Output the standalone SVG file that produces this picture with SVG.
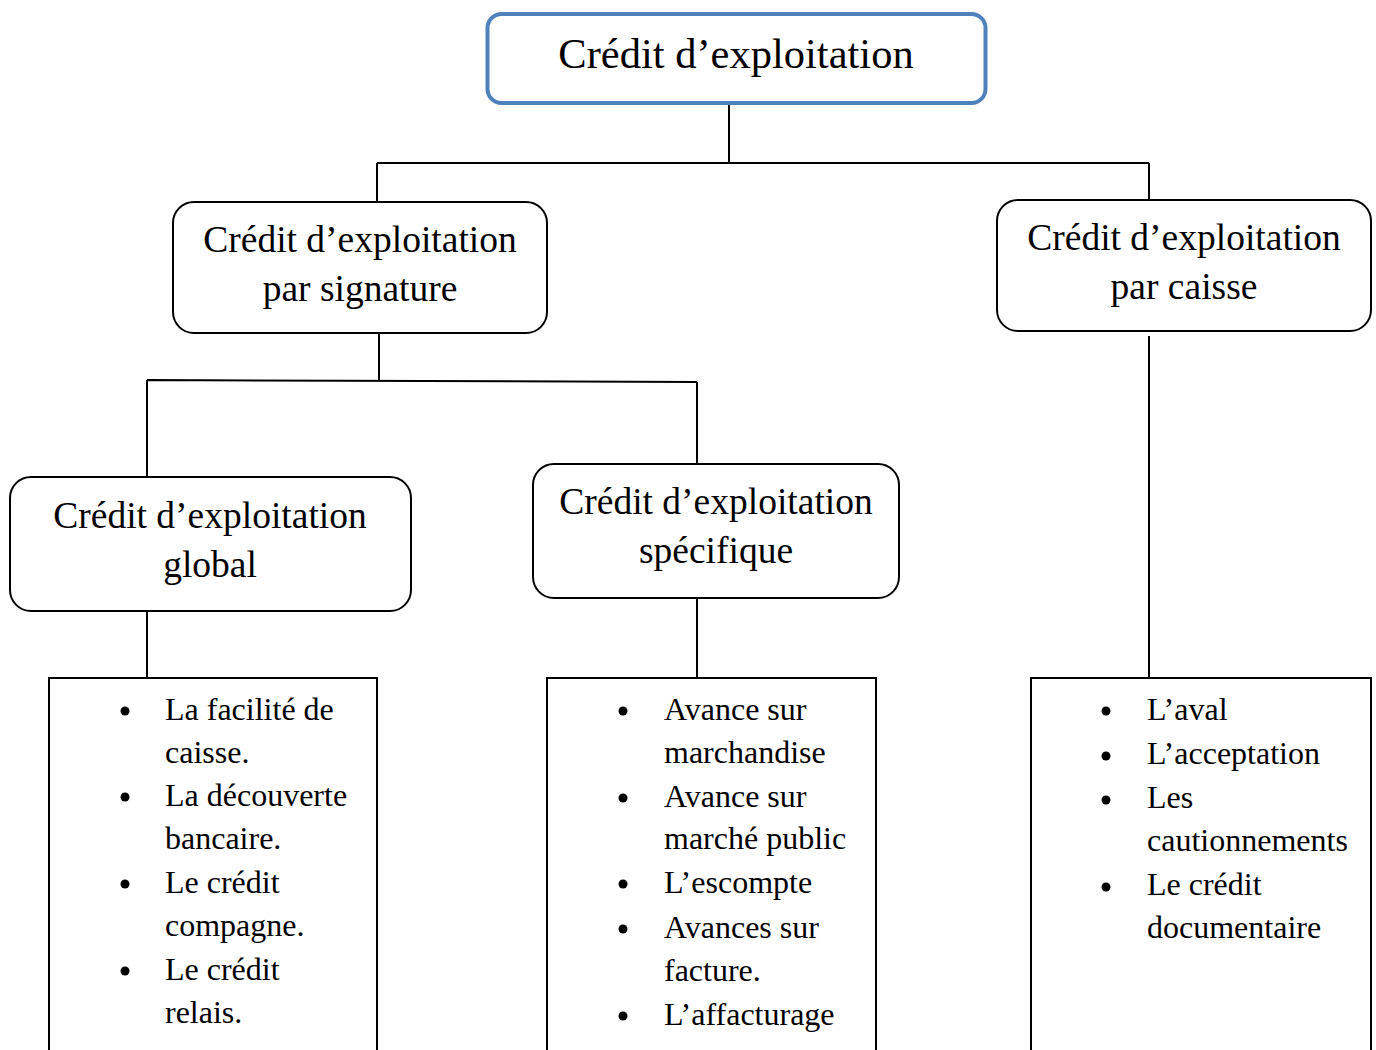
<svg xmlns="http://www.w3.org/2000/svg" width="1376" height="1050" viewBox="0 0 1376 1050">
  <style>
    .bg { fill: #ffffff; }
    .root { fill: #ffffff; stroke: #4F81BD; stroke-width: 4; }
    .node { fill: #ffffff; stroke: #000000; stroke-width: 2; }
    .list { fill: #ffffff; stroke: #000000; stroke-width: 2; }
    .wire { fill: none; stroke: #000000; stroke-width: 2; }
    .title { font-family: "Liberation Serif", "Times New Roman", serif; font-size: 42.5px; fill: #000000; text-anchor: middle; }
    .label { font-family: "Liberation Serif", "Times New Roman", serif; font-size: 37.5px; fill: #000000; text-anchor: middle; }
    .item { font-family: "Liberation Serif", "Times New Roman", serif; font-size: 32px; fill: #000000; }
    .dot { fill: #000000; }
  </style>

  <rect class="bg" x="0" y="0" width="1376" height="1050"/>

  <!-- connectors -->
  <g id="connectors">
    <path class="wire" d="M729 103 V163 M377 163 H1149 M377 163 V202 M1149 163 V200"/>
    <path class="wire" d="M379 333 V381 M147 380 L697 382 M147 380 V477 M697 382 V464"/>
    <path class="wire" d="M147 611 V678 M697 598 V678 M1149 336 V678"/>
  </g>

  <!-- root -->
  <g id="credit-exploitation">
    <rect class="root" x="487.5" y="14" width="498" height="89" rx="14"/>
    <text class="title" x="736" y="68">Crédit d’exploitation</text>
  </g>

  <!-- second level -->
  <g id="par-signature">
    <rect class="node" x="173" y="202" width="374" height="131" rx="21"/>
    <text class="label" x="360" y="252">Crédit d’exploitation</text>
    <text class="label" x="360" y="301">par signature</text>
  </g>

  <g id="par-caisse">
    <rect class="node" x="997" y="200" width="374" height="131" rx="21"/>
    <text class="label" x="1184" y="250">Crédit d’exploitation</text>
    <text class="label" x="1184" y="299">par caisse</text>
  </g>

  <!-- third level -->
  <g id="global">
    <rect class="node" x="10" y="477" width="401" height="134" rx="21"/>
    <text class="label" x="210" y="528">Crédit d’exploitation</text>
    <text class="label" x="210" y="577">global</text>
  </g>

  <g id="specifique">
    <rect class="node" x="533" y="464" width="366" height="134" rx="21"/>
    <text class="label" x="716" y="514">Crédit d’exploitation</text>
    <text class="label" x="716" y="563">spécifique</text>
  </g>

  <!-- lists -->
  <g id="liste-global">
    <rect class="list" x="49" y="678" width="328" height="390"/>
    <circle class="dot" cx="125" cy="711" r="4.5"/>
    <circle class="dot" cx="125" cy="797" r="4.5"/>
    <circle class="dot" cx="125" cy="884" r="4.5"/>
    <circle class="dot" cx="125" cy="971" r="4.5"/>
    <text class="item" x="165" y="720">La facilité de</text>
    <text class="item" x="165" y="763">caisse.</text>
    <text class="item" x="165" y="806">La découverte</text>
    <text class="item" x="165" y="849">bancaire.</text>
    <text class="item" x="165" y="893">Le crédit</text>
    <text class="item" x="165" y="936">compagne.</text>
    <text class="item" x="165" y="980">Le crédit</text>
    <text class="item" x="165" y="1023">relais.</text>
  </g>

  <g id="liste-specifique">
    <rect class="list" x="547" y="678" width="329" height="390"/>
    <circle class="dot" cx="623" cy="711" r="4.5"/>
    <circle class="dot" cx="623" cy="798" r="4.5"/>
    <circle class="dot" cx="623" cy="884" r="4.5"/>
    <circle class="dot" cx="623" cy="929" r="4.5"/>
    <circle class="dot" cx="623" cy="1016" r="4.5"/>
    <text class="item" x="664" y="720">Avance sur</text>
    <text class="item" x="664" y="763">marchandise</text>
    <text class="item" x="664" y="807">Avance sur</text>
    <text class="item" x="664" y="849">marché public</text>
    <text class="item" x="664" y="893">L’escompte</text>
    <text class="item" x="664" y="938">Avances sur</text>
    <text class="item" x="664" y="981">facture.</text>
    <text class="item" x="664" y="1025">L’affacturage</text>
  </g>

  <g id="liste-caisse">
    <rect class="list" x="1031" y="678" width="340" height="390"/>
    <circle class="dot" cx="1106" cy="711" r="4.5"/>
    <circle class="dot" cx="1106" cy="756" r="4.5"/>
    <circle class="dot" cx="1106" cy="800" r="4.5"/>
    <circle class="dot" cx="1106" cy="887" r="4.5"/>
    <text class="item" x="1147" y="720">L’aval</text>
    <text class="item" x="1147" y="764">L’acceptation</text>
    <text class="item" x="1147" y="808">Les</text>
    <text class="item" x="1147" y="851">cautionnements</text>
    <text class="item" x="1147" y="895">Le crédit</text>
    <text class="item" x="1147" y="938">documentaire</text>
  </g>
</svg>
